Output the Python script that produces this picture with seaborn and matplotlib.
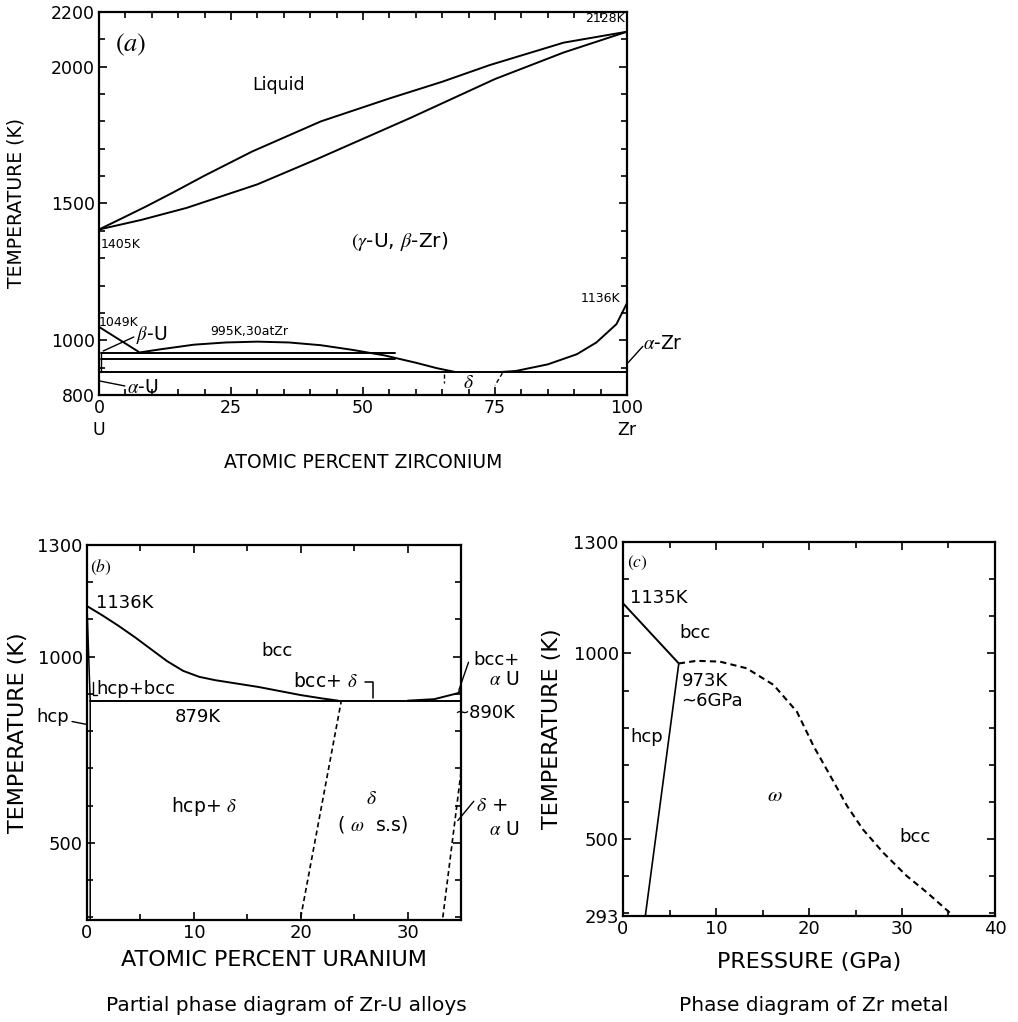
import matplotlib
matplotlib.use("Agg")
import matplotlib.pyplot as plt
import seaborn as sns
import pandas as pd
from matplotlib.ticker import MultipleLocator, FixedLocator

sns.set_theme(style="ticks")
plt.rcParams["font.family"] = ["DejaVu Sans"]
plt.rcParams["mathtext.fontset"] = "stix"

# ---------------- Panel (a): U-Zr phase diagram ----------------
liq_x = [0, 5, 9, 14, 20, 29, 42, 55, 65, 74, 88, 100]
liq_T = [1405, 1452, 1490, 1540, 1602, 1690, 1800, 1884, 1945, 2006, 2088, 2128]
sol_x = [0, 8, 16.6, 30, 41, 59, 75, 88, 100]
sol_T = [1405, 1440, 1484, 1570, 1660, 1813, 1955, 2052, 2128]
dome_x = [7.5, 12, 18, 24, 30, 36, 42, 48, 54, 60, 64, 67.5]
dome_T = [955, 968, 984, 992, 995, 992, 982, 965, 945, 918, 898, 884]
zr_x = [76, 79, 85, 90.5, 94.2, 98, 100]
zr_T = [884, 888, 912, 949, 992, 1059, 1136]
gb_x = [0, 7.5]
gb_T = [1049, 958]
iso_mono_x = [0.4, 56]
iso_mono_T = [955, 955]
iso_eut_x = [0.4, 56]
iso_eut_T = [932, 932]
iso_delta_x = [0, 100]
iso_delta_T = [884, 884]
a_xticks = [0, 25, 50, 75, 100]
a_xticklabels = ["0\nU", "25", "50", "75", "100\nZr"]
a_yticks = [800, 1000, 1500, 2000, 2200]

# ---------------- Panel (b): Zr-U partial diagram ----------------
b_bcc_x = [0, 1.5, 3, 4.5, 6, 7.5, 9, 10.5, 12, 14, 16, 18, 20, 22, 23.5]
b_bcc_T = [1136, 1110, 1082, 1052, 1020, 988, 962, 946, 937, 928, 919, 908, 897, 888, 882]
b_iso_x = [0.3, 35]
b_iso_T = [882, 882]
b_hcp_x = [0, 0.3, 0.3]
b_hcp_T = [1136, 882, 293]
b_right_x = [30, 32.5, 34.7, 35]
b_right_T = [882, 886, 902, 910]
b_d1_x = [20.0, 23.8]
b_d1_T = [300, 882]
b_d2_x = [33.3, 35.0]
b_d2_T = [300, 690]
b_xticks = [0, 10, 20, 30]
b_yticks = [500, 1000, 1300]

# ---------------- Panel (c): Zr P-T diagram ----------------
c_bcc_x = [0, 6]
c_bcc_T = [1135, 973]
c_hcp_x = [6, 2.4]
c_hcp_T = [973, 293]
c_om_x = [6, 7.9, 10.4, 13.3, 16.2, 18.7, 20.5, 22.3, 24.1, 25.8, 28.0, 30.5, 32.7, 35.0, 35.5]
c_om_T = [973, 980, 978, 960, 915, 843, 750, 670, 589, 526, 463, 401, 356, 305, 293]
c_xticks = [0, 10, 20, 30, 40]
c_yticks = [293, 500, 1000, 1300]

W, H = 1018, 1022
fig = plt.figure(figsize=(W / 100, H / 100), dpi=100)
fig.patch.set_facecolor("white")

def box(l, t, r, b):
    return [l / W, 1 - b / H, (r - l) / W, (b - t) / H]

axA = fig.add_axes(box(99, 12, 627, 395))
axB = fig.add_axes(box(87, 545, 461, 920))
axC = fig.add_axes(box(623, 542, 995, 916))

LW = 1.4
TICK_FS = 13

def line(ax, x, y, dashed=False, lw=LW):
    df = pd.DataFrame({"x": x, "y": y})
    kw = dict(color="black", lw=lw, sort=False, estimator=None, ax=ax, legend=False)
    if dashed:
        kw["linestyle"] = (0, (3, 2))
    sns.lineplot(data=df, x="x", y="y", **kw)
    for l in ax.lines[-1:]:
        l.set_clip_on(False)

def style(ax, xlim, ylim, xmaj, xmin, ymaj, ymin, fs=TICK_FS):
    ax.set_xlim(*xlim)
    ax.set_ylim(*ylim)
    ax.set_facecolor("white")
    ax.xaxis.set_major_locator(FixedLocator(xmaj))
    ax.xaxis.set_minor_locator(MultipleLocator(xmin))
    ax.yaxis.set_major_locator(FixedLocator(ymaj))
    ax.yaxis.set_minor_locator(MultipleLocator(ymin))
    ax.tick_params(which="both", direction="in", top=True, right=True,
                   color="black", width=1.2, labelsize=fs, labelcolor="black")
    ax.tick_params(which="major", length=6, pad=3)
    ax.tick_params(which="minor", length=4)
    for s in ax.spines.values():
        s.set_visible(True)
        s.set_color("black")
        s.set_linewidth(1.6)
    ax.grid(False)

# ---- panel (a)
style(axA, (0, 100), (800, 2200), a_xticks, 5, a_yticks, 100, fs=12.5)
axA.set_xticklabels(a_xticklabels, linespacing=1.25)
for xs, ts in [(liq_x, liq_T), (sol_x, sol_T), (dome_x, dome_T), (zr_x, zr_T),
               (gb_x, gb_T), (iso_mono_x, iso_mono_T), (iso_eut_x, iso_eut_T),
               (iso_delta_x, iso_delta_T)]:
    line(axA, xs, ts)
line(axA, [0.4, 0.4], [884, 958], lw=1.0)
line(axA, [0.8, 6.6], [961, 1012], lw=1.0)
line(axA, [0.2, 4.9], [851, 833], lw=1.0)
line(axA, [100.2, 103], [918, 978], lw=1.0)
line(axA, [65.3, 65.3], [878, 845], dashed=True, lw=1.0)
line(axA, [76.4, 75.0], [880, 835], dashed=True, lw=1.0)
axA.set_xlabel("ATOMIC PERCENT ZIRCONIUM", fontsize=13.5, color="black")
axA.set_ylabel("TEMPERATURE (K)", fontsize=13.5, color="black")
axA.xaxis.set_label_coords(0.5, -0.175)
axA.xaxis.label.set_va("center")
axA.yaxis.set_label_coords(-0.158, 0.5)
axA.yaxis.label.set_va("center")
tA = dict(color="black", clip_on=False)
axA.text(3, 2080, r"$(a)$", fontsize=19, ha="left", va="center", **tA)
axA.text(34, 1932, "Liquid", fontsize=12.5, ha="center", va="center", **tA)
axA.text(99.6, 2178, "2128K", fontsize=9, ha="right", va="center", **tA)
axA.text(0.4, 1350, "1405K", fontsize=9, ha="left", va="center", **tA)
axA.text(57, 1360, r"$(\gamma$-U, $\beta$-Zr)", fontsize=14.5, ha="center", va="center", **tA)
axA.text(98.8, 1152, "1136K", fontsize=9, ha="right", va="center", **tA)
axA.text(0.0, 1064, "1049K", fontsize=9, ha="left", va="center", **tA)
axA.text(7.0, 1020, r"$\beta$-U", fontsize=13.5, ha="left", va="center", **tA)
axA.text(28.5, 1032, "995K,30atZr", fontsize=9, ha="center", va="center", **tA)
axA.text(5.3, 828, r"$\alpha$-U", fontsize=13.5, ha="left", va="center", **tA)
axA.text(70, 845, r"$\delta$", fontsize=14, ha="center", va="center", **tA)
axA.text(103, 988, r"$\alpha$-Zr", fontsize=13.5, ha="left", va="center", **tA)

# ---- panel (b)
style(axB, (0, 35), (293, 1300), b_xticks, 5, b_yticks, 100)
line(axB, b_bcc_x, b_bcc_T)
line(axB, b_iso_x, b_iso_T)
line(axB, b_hcp_x, b_hcp_T, lw=1.1)
line(axB, b_right_x, b_right_T)
line(axB, b_d1_x, b_d1_T, dashed=True, lw=1.2)
line(axB, b_d2_x, b_d2_T, dashed=True, lw=1.2)
line(axB, [26.0, 26.8, 26.8], [933, 933, 888], lw=1.1)
line(axB, [0.55, 0.55, 0.9], [933, 898, 898], lw=1.0)
line(axB, [-1.4, 0], [826, 818], lw=1.0)
line(axB, [34.8, 35.7], [910, 985], lw=1.0)
line(axB, [34.7, 36.2], [560, 612], lw=1.0)
axB.set_xlabel("ATOMIC PERCENT URANIUM", fontsize=16, color="black")
axB.set_ylabel("TEMPERATURE (K)", fontsize=16, color="black")
axB.xaxis.set_label_coords(0.5, -0.107)
axB.xaxis.label.set_va("center")
axB.yaxis.set_label_coords(-0.184, 0.5)
axB.yaxis.label.set_va("center")
axB.text(0.3, 1241, r"$(b)$", fontsize=12.5, ha="left", va="center", **tA)
axB.text(0.8, 1145, "1136K", fontsize=13, ha="left", va="center", **tA)
axB.text(17.8, 1016, "bcc", fontsize=13, ha="center", va="center", **tA)
axB.text(0.9, 912, "hcp+bcc", fontsize=13, ha="left", va="center", **tA)
axB.text(19.3, 933, r"bcc+ $\delta$", fontsize=13.5, ha="left", va="center", **tA)
axB.text(-4.7, 837, "hcp", fontsize=13, ha="left", va="center", **tA)
axB.text(10.4, 837, "879K", fontsize=13, ha="center", va="center", **tA)
axB.text(34.4, 850, "~890K", fontsize=13, ha="left", va="center", **tA)
axB.text(40.5, 990, "bcc+", fontsize=13, ha="right", va="center", **tA)
axB.text(40.5, 938, r"$\alpha$ U", fontsize=13.5, ha="right", va="center", **tA)
axB.text(11, 598, r"hcp+ $\delta$", fontsize=13.5, ha="center", va="center", **tA)
axB.text(26.6, 618, r"$\delta$", fontsize=14, ha="center", va="center", **tA)
axB.text(26.7, 550, r"( $\omega$  s.s)", fontsize=13.5, ha="center", va="center", **tA)
axB.text(36.4, 600, r"$\delta$ +", fontsize=14, ha="left", va="center", **tA)
axB.text(40.5, 537, r"$\alpha$ U", fontsize=13.5, ha="right", va="center", **tA)

# ---- panel (c)
style(axC, (0, 40), (293, 1300), c_xticks, 5, c_yticks, 100)
line(axC, c_bcc_x, c_bcc_T)
line(axC, c_hcp_x, c_hcp_T, lw=1.2)
line(axC, c_om_x, c_om_T, dashed=True, lw=1.5)
axC.set_xlabel("PRESSURE (GPa)", fontsize=16, color="black")
axC.set_ylabel("TEMPERATURE (K)", fontsize=16, color="black")
axC.xaxis.set_label_coords(0.5, -0.123)
axC.xaxis.label.set_va("center")
axC.yaxis.set_label_coords(-0.19, 0.5)
axC.yaxis.label.set_va("center")
axC.text(0.4, 1243, r"$(c)$", fontsize=12.5, ha="left", va="center", **tA)
axC.text(0.75, 1150, "1135K", fontsize=13, ha="left", va="center", **tA)
axC.text(7.7, 1056, "bcc", fontsize=13, ha="center", va="center", **tA)
axC.text(6.3, 925, "973K", fontsize=13, ha="left", va="center", **tA)
axC.text(6.3, 872, "\u223c6GPa", fontsize=13, ha="left", va="center", **tA)
axC.text(0.8, 776, "hcp", fontsize=13, ha="left", va="center", **tA)
axC.text(16.3, 620, r"$\omega$", fontsize=15, ha="center", va="center", **tA)
axC.text(31.4, 506, "bcc", fontsize=13, ha="center", va="center", **tA)

fig.text(286 / W, 1 - 1005 / H, "Partial phase diagram of Zr-U alloys",
         fontsize=14.5, ha="center", va="center", color="black")
fig.text(814 / W, 1 - 1005 / H, "Phase diagram of Zr metal",
         fontsize=14.5, ha="center", va="center", color="black")

fig.savefig("out.png", dpi=100, facecolor="white")
